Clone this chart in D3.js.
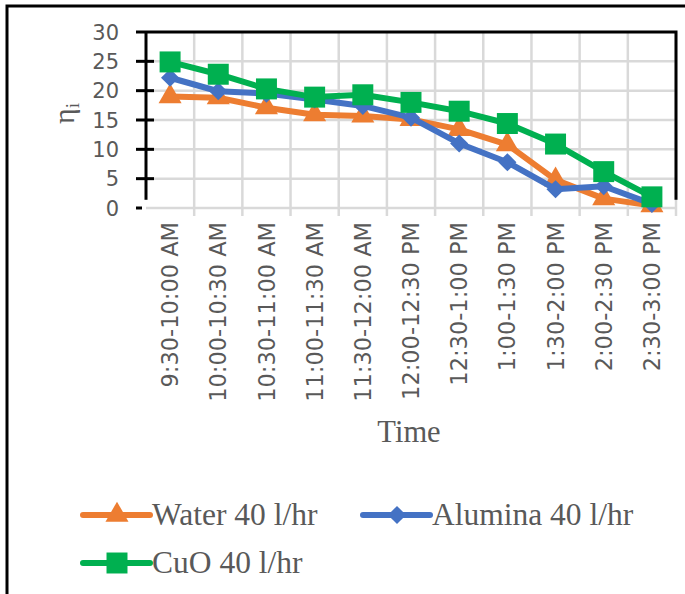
<!DOCTYPE html>
<html>
<head>
<meta charset="utf-8">
<script src="https://cdn.jsdelivr.net/npm/d3@7"></script>
<style>
  body { margin: 0; background: #fff; }
  svg { display: block; }
</style>
</head>
<body>
<div id="chart"></div>
<script>
// time slots on the x axis
const times = ["9:30-10:00 AM", "10:00-10:30 AM", "10:30-11:00 AM", "11:00-11:30 AM",
  "11:30-12:00 AM", "12:00-12:30 PM", "12:30-1:00 PM", "1:00-1:30 PM",
  "1:30-2:00 PM", "2:00-2:30 PM", "2:30-3:00 PM"];

// efficiency values
const water = [19, 18.8, 17.1, 15.9, 15.7, 15.1, 13.4, 10.8, 4.8, 1.6, 0.4];
const alumina = [22.2, 19.9, 19.5, 18.5, 17.4, 15.4, 11.0, 7.8, 3.2, 3.7, 0.7];
const cuo = [24.9, 22.8, 20.3, 18.9, 19.3, 18.0, 16.5, 14.4, 10.9, 6.2, 1.9];

const yTicks = [0, 5, 10, 15, 20, 25, 30];

const seriesNames = ["Water 40 l/hr", "Alumina 40 l/hr", "CuO 40 l/hr"];
const colors = ["#ED7D31", "#4472C4", "#00B050"];

const width = 685, height = 594;
const grey = "#595959";

const svg = d3.select("#chart").append("svg")
  .attr("width", width)
  .attr("height", height);

const x = d3.scaleBand().domain(times).range([146, 676]).padding(0);
const y = d3.scaleLinear().domain([0, 30]).range([208, 32]);
const cx = d => x(d) + x.bandwidth() / 2;

// outer frame (left + top only)
svg.append("path")
  .attr("d", `M7,${height} V6 H${width}`)
  .attr("fill", "none")
  .attr("stroke", "#000")
  .attr("stroke-width", 3);

// gridlines
svg.append("g")
  .selectAll("line")
  .data(yTicks.slice(0, -1))
  .join("line")
  .attr("x1", 146).attr("x2", 677)
  .attr("y1", d => y(d)).attr("y2", d => y(d))
  .attr("stroke", "#d9d9d9")
  .attr("stroke-width", 2.5);

svg.append("g")
  .selectAll("line")
  .data(times.slice(1).concat(["end"]))
  .join("line")
  .attr("x1", (d, i) => x.range()[0] + x.bandwidth() * (i + 1))
  .attr("x2", (d, i) => x.range()[0] + x.bandwidth() * (i + 1))
  .attr("y1", y(30)).attr("y2", y(0) + 8)
  .attr("stroke", "#d9d9d9")
  .attr("stroke-width", 2.5);

// plot border: top and right
svg.append("path")
  .attr("d", `M146,${y(30)} H676 V${y(1.4)}`)
  .attr("fill", "none")
  .attr("stroke", "#000")
  .attr("stroke-width", 3);

// y axis line and ticks
svg.append("line")
  .attr("x1", 146).attr("x2", 146)
  .attr("y1", y(30)).attr("y2", y(1.4))
  .attr("stroke", "#000").attr("stroke-width", 3);

svg.append("g")
  .selectAll("line")
  .data(yTicks)
  .join("line")
  .attr("x1", 136)
  .attr("x2", d => d === 30 ? 146 : (d === 0 ? 142 : 154))
  .attr("y1", d => y(d)).attr("y2", d => y(d))
  .attr("stroke", "#000").attr("stroke-width", 3);

svg.append("g")
  .attr("font-family", "DejaVu Sans, sans-serif")
  .attr("font-size", 21)
  .attr("fill", grey)
  .attr("text-anchor", "end")
  .selectAll("text")
  .data(yTicks)
  .join("text")
  .attr("x", 119)
  .attr("y", d => y(d))
  .attr("dy", "0.36em")
  .text(d => d);

// x labels, rotated
svg.append("g")
  .attr("font-family", "DejaVu Sans, sans-serif")
  .attr("font-size", 22.5)
  .attr("fill", grey)
  .attr("text-anchor", "end")
  .selectAll("text")
  .data(times)
  .join("text")
  .attr("transform", d => `translate(${cx(d)},222) rotate(-90)`)
  .attr("dy", "0.36em")
  .text(d => d);

// axis titles
svg.append("text")
  .attr("x", 409).attr("y", 442)
  .attr("text-anchor", "middle")
  .attr("font-family", "Liberation Serif, serif")
  .attr("font-size", 30.5)
  .attr("fill", grey)
  .text("Time");

const yTitle = svg.append("text")
  .attr("transform", "translate(74,124) rotate(-90)")
  .attr("font-family", "Liberation Serif, serif")
  .attr("font-size", 30)
  .attr("fill", grey);
yTitle.append("tspan").text("η");
yTitle.append("tspan").attr("font-size", 19).attr("dy", 5).text("i");

// series
const series = [water, alumina, cuo];
const symbols = [
  d3.symbol(d3.symbolTriangle, 230),
  d3.symbol(d3.symbolDiamond2, 210),
  d3.symbol(d3.symbolSquare, 440)
];

const line = d3.line()
  .x((d, i) => cx(times[i]))
  .y(d => y(d));

series.forEach((vals, s) => {
  svg.append("path")
    .datum(vals)
    .attr("fill", "none")
    .attr("stroke", colors[s])
    .attr("stroke-width", 6)
    .attr("stroke-linejoin", "round")
    .attr("d", line);

  svg.append("g")
    .selectAll("path")
    .data(vals)
    .join("path")
    .attr("transform", (d, i) => `translate(${cx(times[i])},${y(d)})`)
    .attr("fill", colors[s])
    .attr("d", symbols[s]());
});

// legend
const legendPos = [[83, 515], [363, 515], [83, 563]];
const legend = svg.append("g")
  .selectAll("g")
  .data(seriesNames)
  .join("g")
  .attr("transform", (d, i) => `translate(${legendPos[i][0]},${legendPos[i][1]})`);

legend.append("line")
  .attr("x1", 0).attr("x2", 67)
  .attr("stroke", (d, i) => colors[i])
  .attr("stroke-width", 6)
  .attr("stroke-linecap", "round");

legend.append("path")
  .attr("transform", "translate(34,0)")
  .attr("fill", (d, i) => colors[i])
  .attr("d", (d, i) => symbols[i]());

legend.append("text")
  .attr("x", 69)
  .attr("dy", "0.33em")
  .attr("font-family", "Liberation Serif, serif")
  .attr("font-size", 31.5)
  .attr("fill", grey)
  .text(d => d);
</script>
</body>
</html>
